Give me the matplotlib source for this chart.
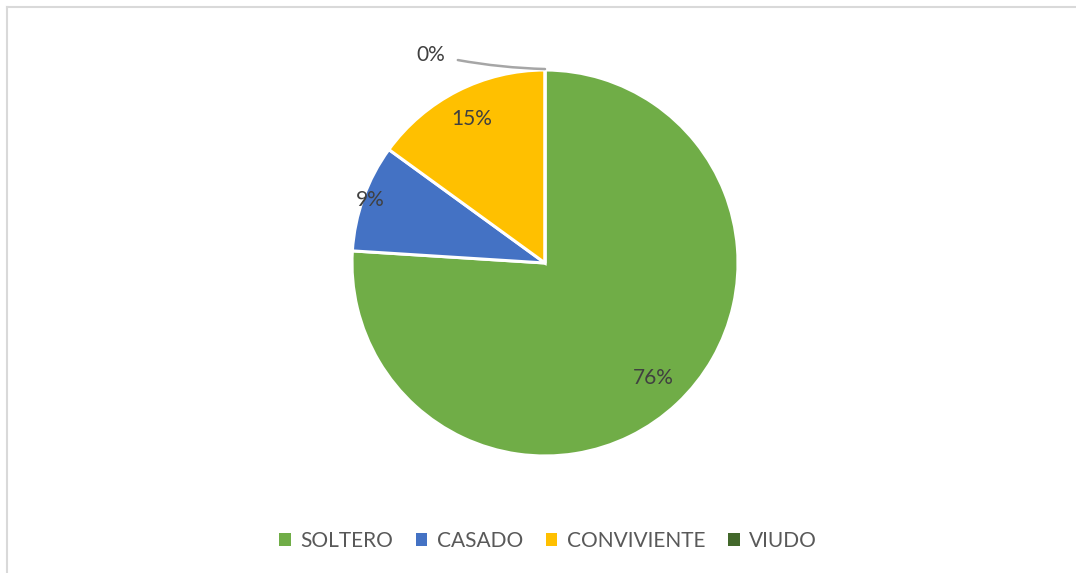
import numpy as np
import matplotlib.pyplot as plt
from matplotlib.lines import Line2D
from matplotlib.patches import Patch

# Estado civil (porcentaje)
categorias = ['SOLTERO', 'CASADO', 'CONVIVIENTE', 'VIUDO']
valores = [76, 9, 15, 0]
colores = ['#70AD47', '#4472C4', '#FFC000', '#43682B']
# distance of each data label from the centre (radius units)
dist_etiqueta = [0.82, 0.96, 0.835, None]

plt.rcParams['font.family'] = ['Lato', 'DejaVu Sans']

W, H = 1076, 573
fig = plt.figure(figsize=(W / 100, H / 100), dpi=100)

# pie axes: centre (545, 263) px, radius 193 px
cx, cy, r = 545, 263, 193
ax = fig.add_axes([(cx - r) / W, (H - cy - r) / H, 2 * r / W, 2 * r / H])
wedges, _ = ax.pie(valores, colors=colores, startangle=90, counterclock=False,
                   radius=1, wedgeprops=dict(edgecolor='white', linewidth=2.2))
ax.set_xlim(-1, 1)
ax.set_ylim(-1, 1)
ax.set_aspect('auto')
ax.axis('off')

total = sum(valores)
for w, v, d in zip(wedges, valores, dist_etiqueta):
    ang = np.deg2rad((w.theta1 + w.theta2) / 2)
    txt = f'{100 * v / total:.0f}%'
    if d is None:
        # leader line for the empty slice
        x0, y0 = np.cos(ang) * 1.005, np.sin(ang) * 1.005
        ax.annotate(txt, xy=(x0, y0), xytext=(x0 - 0.59, y0 + 0.075),
                    fontsize=15, color='#404040', ha='center', va='center',
                    annotation_clip=False,
                    arrowprops=dict(arrowstyle='-', color='#A6A6A6', lw=1.8,
                                    shrinkA=7, shrinkB=0,
                                    connectionstyle='arc3,rad=0.05'))
    else:
        ax.text(np.cos(ang) * d, np.sin(ang) * d, txt, fontsize=15,
                color='#404040', ha='center', va='center')

# chart frame (only top and left edges visible)
fig.add_artist(Line2D([7 / W, 1], [1 - 7 / H, 1 - 7 / H], color='#D9D9D9', lw=1.5))
fig.add_artist(Line2D([7 / W, 7 / W], [0, 1 - 7 / H], color='#D9D9D9', lw=1.5))

handles = [Patch(facecolor=c, edgecolor='none') for c in colores]
leg = fig.legend(handles, categorias, loc='center', ncol=4,
                 bbox_to_anchor=(548 / W, 1 - 541 / H), frameon=False,
                 fontsize=15, handlelength=0.55, handleheight=0.55,
                 handletextpad=0.45, columnspacing=1.1)
for t in leg.get_texts():
    t.set_color('#595959')

fig.savefig('out.png', dpi=100, facecolor='white')
